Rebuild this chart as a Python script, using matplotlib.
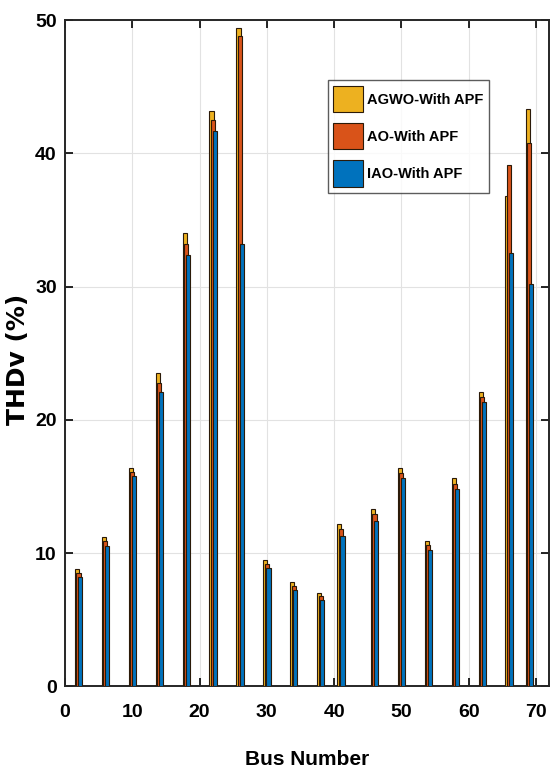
import numpy as np
import matplotlib.pyplot as plt

# ---------------------------------------------------------
# Daten
# ---------------------------------------------------------
bus = [2, 6, 10, 14, 18, 22, 26, 30, 34, 38, 41, 46, 50, 54, 58, 62, 66, 69]
agwo = [8.8, 11.2, 16.4, 23.5, 34.0, 43.2, 49.4, 9.5, 7.8, 7.0, 12.2, 13.3,
        16.4, 10.9, 15.6, 22.1, 36.8, 43.3]
ao = [8.5, 10.9, 16.1, 22.8, 33.2, 42.5, 48.8, 9.2, 7.5, 6.8, 11.8, 12.9,
      16.0, 10.6, 15.2, 21.7, 39.1, 40.8]
iao = [8.2, 10.5, 15.8, 22.1, 32.4, 41.7, 33.2, 8.9, 7.2, 6.5, 11.3, 12.4,
       15.6, 10.2, 14.8, 21.3, 32.5, 30.2]
labels = ["AGWO-With APF", "AO-With APF", "IAO-With APF"]

colors = ["#EDB120", "#D95319", "#0072BD"]
plt.rcParams["font.family"] = ["Liberation Sans", "DejaVu Sans"]
plt.rcParams["font.weight"] = "bold"

fig = plt.figure(figsize=(5.51, 7.72), dpi=100)
ax = fig.add_axes([0.118, 0.111, 0.879, 0.863])

x = np.array(bus, dtype=float)
offs = [-0.22, 0.0, 0.25]
for data, c, lab, o in zip([agwo, ao, iao], colors, labels, offs):
    ax.bar(x + o, data, width=0.62, color=c, edgecolor="#2b1a08",
           linewidth=0.8, label=lab, zorder=3)

ax.set_xlim(0, 72)
ax.set_ylim(0, 50)
ax.set_xticks(range(0, 71, 10))
ax.set_yticks(range(0, 51, 10))
ax.grid(True, color="#e2e2e2", linewidth=0.8, zorder=0)
ax.tick_params(direction="in", top=True, right=True, length=6,
               width=1.2, labelsize=14)
ax.tick_params(axis="x", pad=13)
ax.tick_params(axis="y", pad=6)
for s in ax.spines.values():
    s.set_linewidth(1.4)
    s.set_color("#262626")

ax.set_xlabel("Bus Number", fontsize=15, fontweight="bold")
ax.xaxis.set_label_coords(0.5, -0.095)
ax.set_ylabel("THDv (%)", fontsize=18, fontweight="bold",
              family=["DejaVu Sans"])
ax.yaxis.set_label_coords(-0.072, 0.49)

leg = ax.legend(loc="upper left", bbox_to_anchor=(0.542, 0.91),
                borderaxespad=0, fontsize=10.5, frameon=True, fancybox=False,
                edgecolor="#333333", handlelength=2.0, handleheight=2.4,
                labelspacing=0.75, borderpad=0.4, handletextpad=0.3)
leg.get_frame().set_linewidth(1.0)
for t in leg.get_texts():
    t.set_fontweight("bold")

fig.savefig("out.png", dpi=100)
